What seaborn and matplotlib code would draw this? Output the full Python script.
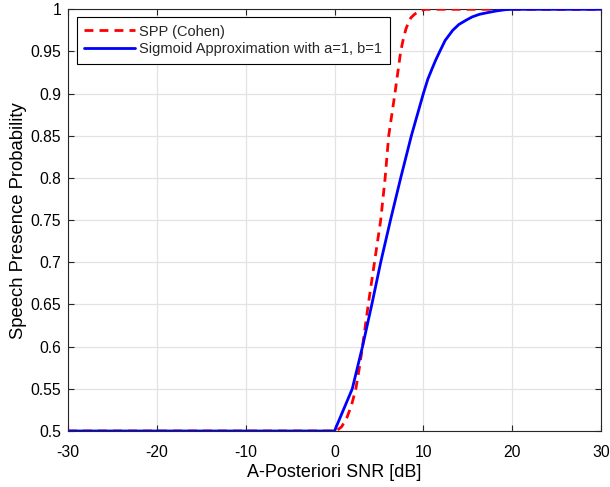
import matplotlib
matplotlib.use("Agg")
import matplotlib.pyplot as plt
import seaborn as sns
import pandas as pd

# Values
spp_snr = [-30, 0.0, 0.2, 0.8, 1.4, 1.9, 2.4, 2.8, 3.15, 3.8, 4.5, 5.2, 5.7, 6.1, 6.8, 7.45, 7.75, 8.05,
           8.35, 8.6, 9.0, 9.4, 9.8, 10.3, 15, 20, 30]
spp_prob = [0.5, 0.5, 0.5, 0.505, 0.516, 0.53, 0.55, 0.575, 0.6, 0.65, 0.7, 0.75, 0.8, 0.85, 0.9, 0.95, 0.965, 0.977,
            0.985, 0.99, 0.994, 0.997, 0.999, 1.0, 1.0, 1.0, 1.0]

sig_snr = [-30, -10, 0.0, 1.0, 2.0, 3.15, 4.2, 5.2, 6.3, 7.45, 8.65, 10.0, 10.5, 11.0, 11.4, 11.85, 12.45,
           13.3, 14.0, 14.8, 15.5, 16.3, 17.2, 18.2, 19.2, 20.0, 25, 30]
sig_prob = [0.5, 0.5, 0.5, 0.525, 0.55, 0.6, 0.65, 0.7, 0.75, 0.8, 0.85, 0.9, 0.917, 0.93, 0.94, 0.95, 0.963,
            0.975, 0.982, 0.987, 0.991, 0.994, 0.996, 0.998, 0.9995, 1.0, 1.0, 1.0]

labels = ["SPP (Cohen)", "Sigmoid Approximation with a=1, b=1"]
x_ticks = [-30, -20, -10, 0, 10, 20, 30]
y_ticks = [0.5, 0.55, 0.6, 0.65, 0.7, 0.75, 0.8, 0.85, 0.9, 0.95, 1]
y_tick_labels = ["0.5", "0.55", "0.6", "0.65", "0.7", "0.75", "0.8", "0.85", "0.9", "0.95", "1"]

df_spp = pd.DataFrame({"snr": spp_snr, "p": spp_prob})
df_sig = pd.DataFrame({"snr": sig_snr, "p": sig_prob})

sns.set_theme(style="white")
plt.rcParams["font.family"] = ["Liberation Sans", "DejaVu Sans"]

fig = plt.figure(figsize=(6.10, 4.87), dpi=100)
ax = fig.add_axes([68 / 610, 1 - 431 / 487, (601 - 68) / 610, (431 - 9.3) / 487])

sns.lineplot(data=df_spp, x="snr", y="p", ax=ax, color="#ff0000", linewidth=2.0,
             linestyle=(0, (3.2, 2.2)), label=labels[0], sort=False, estimator=None, zorder=3)
sns.lineplot(data=df_sig, x="snr", y="p", ax=ax, color="#0000ff", linewidth=2.0,
             label=labels[1], sort=False, estimator=None, zorder=3)

ax.set_xlim(-30, 30)
ax.set_ylim(0.5, 1.0)
ax.set_xticks(x_ticks)
ax.set_xticklabels([str(t) for t in x_ticks])
ax.set_yticks(y_ticks)
ax.set_yticklabels(y_tick_labels)
ax.grid(True, color="#e3e3e3", linewidth=0.9)
ax.set_axisbelow(True)
for s in ax.spines.values():
    s.set_color("#262626")
    s.set_linewidth(0.8)
    s.set_visible(True)
ax.tick_params(direction="in", length=4, width=0.8, color="#262626",
               top=True, right=True, bottom=True, left=True,
               labelsize=11.3, labelcolor="#000000")
ax.tick_params(axis="x", pad=10)
ax.tick_params(axis="y", pad=5)
ax.set_xlabel("A-Posteriori SNR [dB]", fontsize=13, color="#000000", labelpad=3)
ax.set_ylabel("Speech Presence Probability", fontsize=13.3, color="#000000", labelpad=2.5)

leg = ax.legend(loc="upper left", bbox_to_anchor=(0.016, 0.981), fontsize=10.5,
                frameon=True, fancybox=False, edgecolor="#000000", framealpha=1,
                borderpad=0.5, labelspacing=0.25, handlelength=3.5, handletextpad=0.3,
                borderaxespad=0.0)
leg.get_frame().set_linewidth(0.8)

fig.savefig("out.png", dpi=100)
